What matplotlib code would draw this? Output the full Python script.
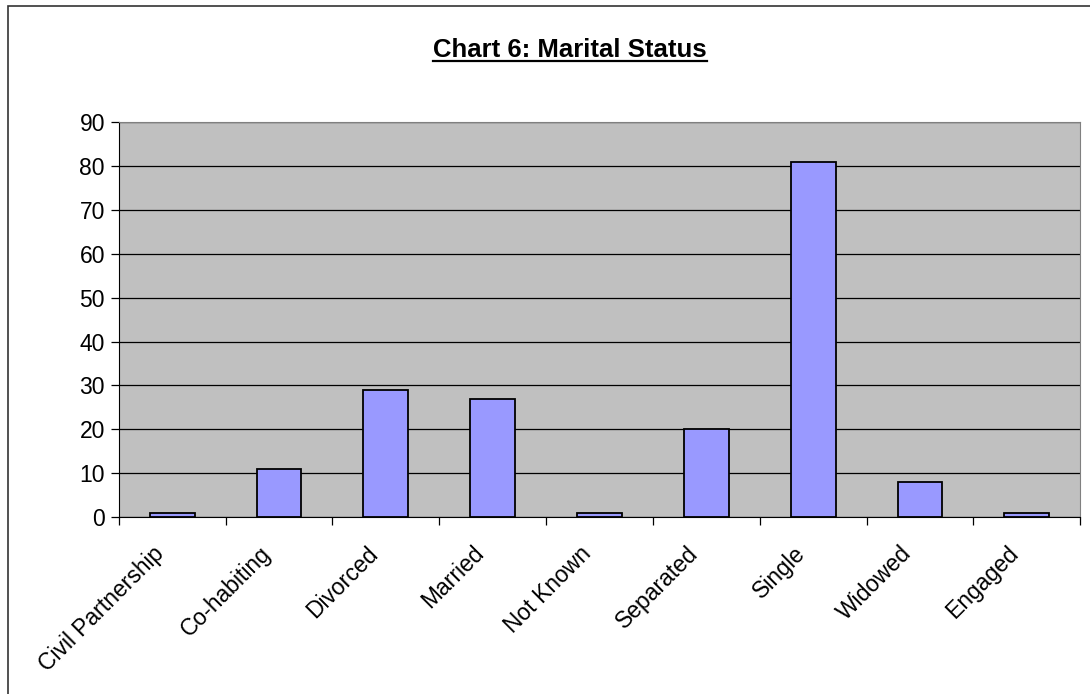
import matplotlib
matplotlib.use('Agg')
import matplotlib.pyplot as plt
from matplotlib.patches import Rectangle
from matplotlib.lines import Line2D
from matplotlib.transforms import ScaledTranslation
import numpy as np

plt.rcParams['font.family'] = ['Liberation Sans', 'DejaVu Sans']

categories = ['Civil Partnership', 'Co-habiting', 'Divorced', 'Married', 'Not Known',
              'Separated', 'Single', 'Widowed', 'Engaged']
counts = [1, 11, 29, 27, 1, 20, 81, 8, 1]

fig = plt.figure(figsize=(10.9, 6.94), dpi=100)
ax = fig.add_axes([0.109, 0.255, 0.882, 0.569])

x = np.arange(len(categories))
ax.bar(x, counts, width=0.42, color='#9999FF', edgecolor='black', linewidth=1.3, zorder=3)

ax.set_facecolor('#C0C0C0')
ax.set_xlim(-0.5, len(categories) - 0.5)
ax.set_ylim(0, 90)
ax.set_yticks(np.arange(0, 91, 10))
ax.yaxis.grid(True, color='black', linewidth=0.9, zorder=1)
ax.set_axisbelow(True)

# ticks between categories, labels at centres
ax.set_xticks(np.arange(-0.5, len(categories), 1))
ax.set_xticklabels([])
ax.tick_params(axis='x', which='major', direction='out', length=6, width=0.9, color='black')
ax.set_xticks(x, minor=True)
ax.set_xticklabels(categories, minor=True, rotation=45, ha='right', va='top',
                   rotation_mode='anchor', fontsize=16.5)
ax.tick_params(axis='x', which='minor', length=0, pad=10)
ax.tick_params(axis='y', direction='out', length=6, width=0.9, labelsize=16.5, pad=4)

# nudge the slanted labels a bit left/down like Excel does
shift = ScaledTranslation(-0.20, -0.11, fig.dpi_scale_trans)
for lbl in ax.get_xticklabels(minor=True):
    lbl.set_transform(lbl.get_transform() + shift)

for side in ['top', 'right']:
    ax.spines[side].set_color('#808080')
ax.spines['left'].set_color('black')
ax.spines['bottom'].set_color('black')

title = fig.text(0.523, 0.928, 'Chart 6: Marital Status', ha='center', va='center',
                 fontsize=18.5, fontweight='bold')

# outer chart border
fig.patches.append(Rectangle((8 / 1090, -0.05), 1.1, 0.05 + (694 - 6) / 694,
                             transform=fig.transFigure, fill=False,
                             edgecolor='#333333', linewidth=1.2))

# underline the title
fig.canvas.draw()
bb = title.get_window_extent().transformed(fig.transFigure.inverted())
fig.lines.append(Line2D([bb.x0, bb.x1], [bb.y0 + 0.001, bb.y0 + 0.001],
                        transform=fig.transFigure, color='black', linewidth=1.6))

fig.savefig('out.png', dpi=100)
